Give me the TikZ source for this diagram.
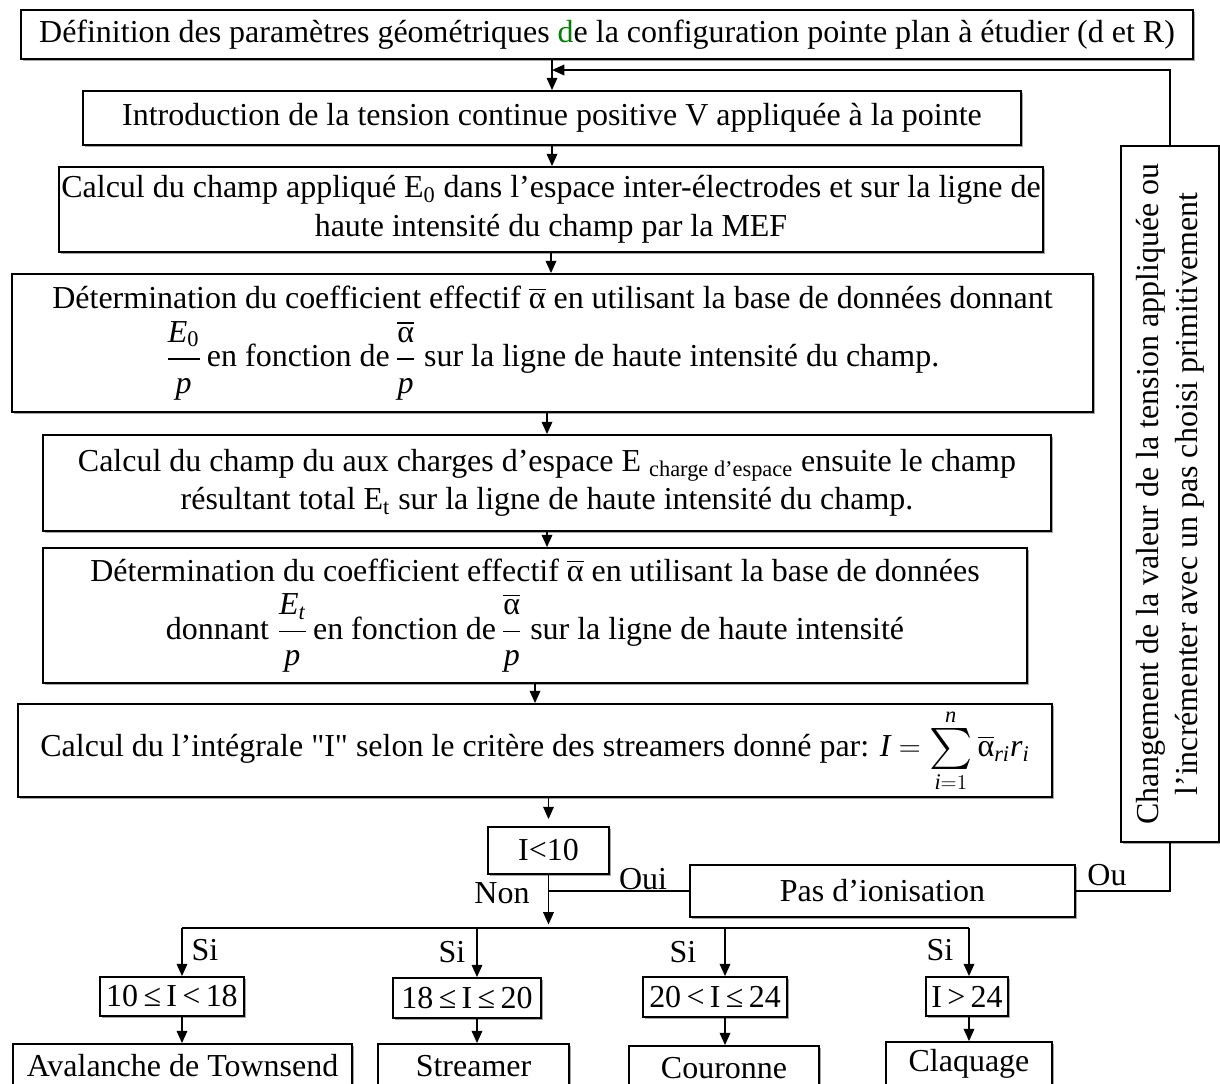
\documentclass[tikz,border=0pt]{standalone}
\usepackage{fontspec}
\usepackage{amsmath}
\usepackage{graphicx}
\setmainfont{Liberation Serif}
\usetikzlibrary{arrows.meta,shadows}
\definecolor{vertd}{RGB}{0,128,0}
\newcommand{\abar}{\ensuremath{\overline{\mbox{α}}}}
\newcommand{\vi}[1]{\textit{#1}}
\newcommand{\grandfrac}[2]{\dfrac{#1\rule[-7pt]{0pt}{0pt}}{\rule{0pt}{17pt}#2}}
\newcommand{\somme}{\mathop{\vcenter{\hbox{\scalebox{1.35}{$\textstyle\sum$}}}}\limits}
\tikzset{
  bloc/.style={draw, fill=white, line width=1pt, inner xsep=0pt, inner ysep=2pt, align=center,
    drop shadow={shadow xshift=1.2pt, shadow yshift=-1.2pt, fill=gray!70, opacity=1}},
  taille/.style 2 args={minimum width=#1*0.02cm, minimum height=#2*0.02cm},
  fleche/.style={-{Triangle[length=7pt,width=6pt]}, line width=1pt},
  trait/.style={line width=1pt}
}
\begin{document}
\begin{tikzpicture}[x=0.02cm, y=-0.02cm, font=\fontsize{18.2}{22}\selectfont]
  \useasboundingbox (0,0) rectangle (1220,1083);

  % Blocs
  \node[bloc, taille={1172}{49}] (def) at (607,34.5)
    {Définition des paramètres géométriques \textcolor{vertd}{d}e la configuration pointe plan à étudier (d et R)};
  \node[bloc, taille={938}{54}] (intro) at (552,118)
    {Introduction de la tension continue positive V appliquée à la pointe};
  \node[bloc, taille={984}{85}] (calc1) at (551,209.5)
    {Calcul du champ appliqué E\textsubscript{0} dans l’espace inter-électrodes et sur la ligne de\\
     haute intensité du champ par la MEF};
  \node[bloc, taille={1081}{138}] (det1) at (552.5,343)
    {Détermination du coefficient effectif \abar\ en utilisant la base de données donnant\\[6pt]
     $\grandfrac{\vi{E}_{\textrm{0}}}{\vi{p}}$\,en fonction de\,$\grandfrac{\abar}{\vi{p}}$ sur la ligne de haute intensité du champ.};
  \node[bloc, taille={1008}{96}] (calc2) at (547,483)
    {Calcul du champ du aux charges d’espace E \textsubscript{charge d’espace} ensuite le champ\\
     résultant total E\textsubscript{t} sur la ligne de haute intensité du champ.};
  \node[bloc, taille={984}{135}] (det2) at (535,615.5)
    {Détermination du coefficient effectif \abar\ en utilisant la base de données\\[6pt]
     donnant $\grandfrac{\vi{E}_{\vi{t}}}{\vi{p}}$\,en fonction de\,$\grandfrac{\abar}{\vi{p}}$ sur la ligne de haute intensité};
  \node[bloc, taille={1034}{93}] (integ) at (535,750.5)
    {Calcul du l’intégrale \textquotedbl I\textquotedbl\ selon le critère des streamers donné par:
     $\vi{I} = \somme_{\vi{i}=1}^{\vi{n}} \abar_{\vi{ri}}\vi{r}_{\vi{i}}$};

  % Test et boucle
  \node[bloc, taille={121}{47}] (inf) at (548.5,850.5) {I<10};
  \node[bloc, taille={385}{52}] (pas) at (882.5,891) {Pas d’ionisation};
  \node[bloc, taille={98}{696}] (chg) at (1170,494) {};
  \node[rotate=90, align=center] (chgtxt) at (chg)
    {Changement de la valeur de la tension appliquée ou\\
     l’incrémenter avec un pas choisi primitivement};

  % Cas
  \node[bloc, taille={144}{39}] (c1) at (172,996.5) {10\,≤\,I\,<\,18};
  \node[bloc, taille={148}{40}] (c2) at (467,998) {18\,≤\,I\,≤\,20};
  \node[bloc, taille={144}{40}] (c3) at (715,997) {20\,<\,I\,≤\,24};
  \node[bloc, taille={82}{39}] (c4) at (967,996.5) {I\,>\,24};

  \node[bloc, taille={339}{44}] (r1) at (182.5,1066) {Avalanche de Townsend};
  \node[bloc, taille={191}{44}] (r2) at (473.5,1066) {Streamer};
  \node[bloc, taille={190}{44}] (r3) at (724,1068) {Couronne};
  \node[bloc, taille={166}{44}] (r4) at (969,1064) {Claquage};

  % Fleches
  \draw[fleche] (def.south -| intro.north) -- (intro.north);
  \draw[fleche] (intro.south) -- (intro.south |- calc1.north);
  \draw[fleche] (calc1.south) -- (calc1.south |- det1.north);
  \draw[fleche] (det1.south -| calc2.north) -- (calc2.north);
  \draw[fleche] (calc2.south) -- (calc2.south |- det2.north);
  \draw[fleche] (det2.south) -- (det2.south |- integ.north);
  \draw[fleche, shorten >=4pt] (integ.south -| inf.north) -- (inf.north);

  \coordinate (bus1) at (182,928);
  \coordinate (bus2) at (477,928);
  \coordinate (bus3) at (725,928);
  \coordinate (bus4) at (969,928);
  \coordinate (oui) at (inf.south |- pas.west);
  \coordinate (retour) at (1170,70);

  \draw[trait] (oui) -- (pas.west);
  \draw[fleche, shorten >=2pt] (inf.south) -- (inf.south |- bus1);
  \draw[trait] (bus1) -- (bus4);
  \foreach \i in {1,...,4} {
    \draw[fleche] (bus\i) -- (bus\i |- c\i.north);
    \draw[fleche] (bus\i |- c\i.south) -- (bus\i |- r\i.north);
  }
  \draw[trait] (pas.east) -| (chg.south);
  \draw[fleche] (chg.north) -- (retour) -- (retour -| intro.north);

  % Etiquettes
  \node (non) at (502,893) {Non};
  \node (ouilbl) at (643,879) {Oui};
  \node (ou) at (1107,875) {Ou};
  \node (si1) at (205,950) {Si};
  \node (si2) at (452,952) {Si};
  \node (si3) at (683,952) {Si};
  \node (si4) at (940,950) {Si};
\end{tikzpicture}
\end{document}
